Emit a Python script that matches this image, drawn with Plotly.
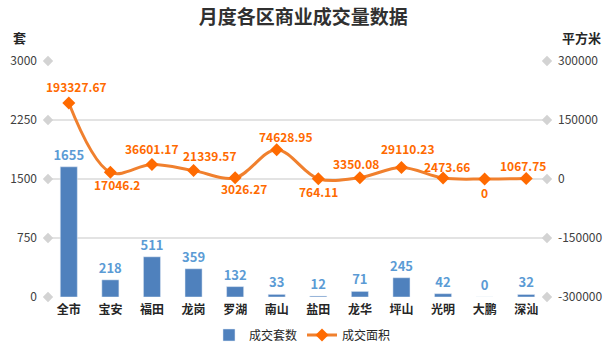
import plotly.graph_objects as go

categories = ["全市", "宝安", "福田", "龙岗", "罗湖", "南山", "盐田", "龙华", "坪山", "光明", "大鹏", "深汕"]
units = [1655, 218, 511, 359, 132, 33, 12, 71, 245, 42, 0, 32]
area = [193327.67, 17046.2, 36601.17, 21339.57, 3026.27, 74628.95, 764.11, 3350.08, 29110.23, 2473.66, 0, 1067.75]
area_labels = ["193327.67", "17046.2", "36601.17", "21339.57", "3026.27", "74628.95", "764.11", "3350.08", "29110.23", "2473.66", "0", "1067.75"]
left_ticks = [0, 750, 1500, 2250, 3000]
right_ticks = [-300000, -150000, 0, 150000, 300000]
right_tick_text = ["-300000", "-150000", "0", "150000", "300000"]

# label offsets (pixels) for the area labels: (xshift, yshift)
label_shift = [(8, 16), (7, -12), (0, 16), (16, 15), (9, -11), (9, 13),
               (0, -13), (-4, 14), (6, 19), (4, 12), (0, -13), (-3, 13)]

FONT = "Noto Sans CJK SC"
ORANGE = "#FF6A00"
fig = go.Figure()

# gridline end diamonds
for xe in (-0.5, 11.5):
    fig.add_trace(go.Scatter(x=[xe] * len(left_ticks), y=left_ticks, mode="markers",
                             marker=dict(symbol="diamond", size=8, color="#D3D3D3"),
                             cliponaxis=False, showlegend=False, hoverinfo="skip"))

fig.add_trace(go.Bar(x=list(range(len(categories))), y=units, name="成交套数",
                     marker=dict(color="#4F81BD"), width=0.41,
                     text=["<b>%d</b>" % v for v in units], textposition="outside", constraintext="none",
                     textfont=dict(color="#5B9BD5", size=13, family=FONT),
                     cliponaxis=False))
fig.add_trace(go.Scatter(x=list(range(len(categories))), y=area, name="成交面积", yaxis="y2",
                         mode="lines+markers", line=dict(color="#F0802E", width=3, shape="spline", smoothing=1.0),
                         marker=dict(symbol="diamond", size=10, color=ORANGE),
                         cliponaxis=False))

annotations = []
for i, (v, t) in enumerate(zip(area, area_labels)):
    dx, dy = label_shift[i]
    annotations.append(dict(x=i, y=v, xref="x", yref="y2", text="<b>%s</b>" % t, showarrow=False,
                            xanchor="center", yanchor="middle", xshift=dx, yshift=dy,
                            font=dict(size=12, color=ORANGE, family=FONT)))
annotations += [
    dict(text="<b>套</b>", xref="paper", yref="paper", x=-0.058, y=1.10, showarrow=False,
         xanchor="center", yanchor="middle", font=dict(size=13, color="#262626")),
    dict(text="<b>平方米</b>", xref="paper", yref="paper", x=1.07, y=1.10, showarrow=False,
         xanchor="center", yanchor="middle", font=dict(size=13, color="#262626")),
]

fig.update_layout(
    width=610, height=352,
    margin=dict(l=48, r=63, t=61, b=55, autoexpand=False),
    paper_bgcolor="white", plot_bgcolor="white",
    font=dict(family=FONT, color="#404040", size=12),
    title=dict(text="<b>月度各区商业成交量数据</b>", x=0.497, xanchor="center", y=0.95, yanchor="middle",
               font=dict(size=19, color="#303030", family=FONT)),
    xaxis=dict(range=[-0.5, 11.5], tickmode="array", tickvals=list(range(len(categories))),
               ticktext=["<b>%s</b>" % c for c in categories], showgrid=False, zeroline=False,
               showline=False, ticks="", ticklabelstandoff=4, tickfont=dict(size=12, color="#262626")),
    yaxis=dict(range=[0, 3000], tickvals=left_ticks, showgrid=True, gridcolor="#E3E3E3", gridwidth=2,
               zeroline=False, ticks="", ticklabelstandoff=10, tickfont=dict(size=12, color="#404040")),
    yaxis2=dict(range=[-300000, 300000], tickvals=right_ticks, ticktext=right_tick_text,
                overlaying="y", side="right",
                showgrid=False, zeroline=False, ticks="", ticklabelstandoff=10,
                tickfont=dict(size=12, color="#404040")),
    legend=dict(orientation="h", x=0.51, xanchor="center", y=-0.161, yanchor="middle",
                font=dict(size=12, color="#262626"), traceorder="normal", itemwidth=30),
    annotations=annotations,
)

fig.write_html("out.html")
